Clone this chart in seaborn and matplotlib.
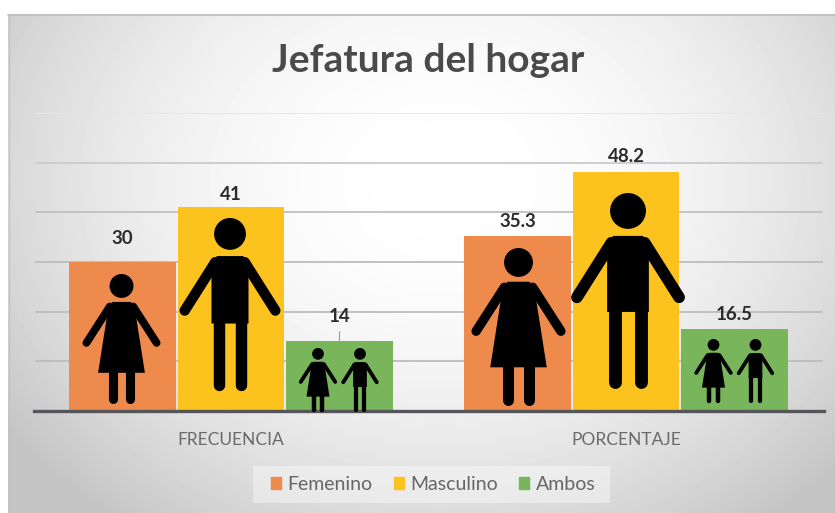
import numpy as np
import pandas as pd
import matplotlib
matplotlib.use("Agg")
import matplotlib.pyplot as plt
from matplotlib.patches import Circle, Polygon, Rectangle
import seaborn as sns

categories = ["FRECUENCIA", "PORCENTAJE"]
femenino = [30, 35.3]
masculino = [41, 48.2]
ambos = [14, 16.5]
value_labels = [["30", "35.3"], ["41", "48.2"], ["14", "16.5"]]
series_names = ["Femenino", "Masculino", "Ambos"]
colors = ["#EE8A4C", "#FCC21E", "#79B55A"]
title = "Jefatura del hogar"
y_ticks = [0, 10, 20, 30, 40, 50, 60]

W, H = 835, 513
sns.set_theme(style="white")
plt.rcParams["font.family"] = ["Lato", "DejaVu Sans"]

rows = []
for name, vals in zip(series_names, [femenino, masculino, ambos]):
    for c, v in zip(categories, vals):
        rows.append({"cat": c, "serie": name, "valor": v})
df = pd.DataFrame(rows)

fig = plt.figure(figsize=(W / 100, H / 100), dpi=100, facecolor="white")

# Panel background (radial grey gradient)
bg = fig.add_axes([0, 0, 1, 1], zorder=0)
bg.axis("off")
yy, xx = np.mgrid[14:H, 8:W]
r = np.sqrt(((xx - 440) / 520.0) ** 2 + ((yy - 180) / 420.0) ** 2)
g = np.clip(1.0 - 0.22 * r ** 2, 0.77, 1.0)
bg.imshow(g, extent=(8, W, H, 14), cmap="gray", vmin=0, vmax=1, aspect="auto", zorder=0)
bg.set_xlim(0, W); bg.set_ylim(H, 0)
bg.plot([8, W], [14.5, 14.5], color="#bdbdbd", lw=1.2, zorder=1)
bg.plot([8.5, 8.5], [14, H], color="#c4c4c4", lw=1, zorder=1)
bg.add_patch(Rectangle((253, 466), 357, 37, facecolor="white", alpha=0.38, lw=0, zorder=2))

# Plot area
x0, x1, ytop, ybase = 33.5, 823.5, 113.0, 411.0
ax = fig.add_axes([x0 / W, 1 - ybase / H, (x1 - x0) / W, (ybase - ytop) / H], zorder=1)
ax.patch.set_alpha(0)
sns.barplot(data=df, x="cat", y="valor", hue="serie", palette=colors, hue_order=series_names,
            order=categories, width=0.824, gap=0.02, saturation=1, linewidth=0, ax=ax, zorder=3)
ax.set_ylim(0, 60)
ax.set_xlabel(""); ax.set_ylabel("")
ax.set_yticks(y_ticks)
ax.tick_params(axis="y", left=False, labelleft=False)
ax.tick_params(axis="x", bottom=False, labelsize=12.5, labelcolor="#6a6a6a", pad=9)
for s in ["top", "left", "right"]:
    ax.spines[s].set_visible(False)
ax.spines["bottom"].set_color("#55565a")
ax.spines["bottom"].set_linewidth(2.4)
ax.spines["bottom"].set_zorder(5)
grid_cols = {10: "#bcbcbc", 20: "#bcbcbc", 30: "#bcbcbc", 40: "#c0c0c0", 50: "#cbcbcb", 60: "#e6e6e6"}
for v, col in grid_cols.items():
    ax.axhline(v, xmin=0.003, xmax=0.998, color=col, lw=1.3, zorder=1)

# Data labels
label_offsets = [[23, 14], [13, 15], [25, 15]]
for cont, labs, offs in zip(ax.containers, value_labels, label_offsets):
    for bar, lab, off in zip(cont, labs, offs):
        ax.annotate(lab, (bar.get_x() + bar.get_width() / 2, bar.get_height()),
                    xytext=(0, off * 0.72), textcoords="offset points",
                    ha="center", va="center", fontsize=13.5, fontweight="bold", color="#2b2b2b", zorder=6)
# first row offsets are per-series: [category 1, category 2]

# Small leader line above the 14 bar
b14 = ax.containers[2][0]
ax.annotate("", (b14.get_x() + b14.get_width() / 2, b14.get_height()),
            xytext=(0, 7), textcoords="offset points",
            arrowprops=dict(arrowstyle="-", color="#a0a0a0", lw=0.9, shrinkA=0, shrinkB=0))

# Legend
handles = [Rectangle((0, 0), 1, 1, color=c) for c in colors]
ax.legend(handles, series_names, ncol=3, loc="center",
          bbox_to_anchor=((433 - x0) / (x1 - x0), (ybase - 484.5) / (ybase - ytop)),
          frameon=False, fontsize=14, labelcolor="#666666",
          handlelength=0.52, handleheight=0.52, handletextpad=0.32,
          columnspacing=1.1, borderpad=0, borderaxespad=0)

# Title
fig.text(428 / W, 1 - 61 / H, title, ha="center", va="center", fontsize=28,
         fontweight="bold", color="#4a4a4a")

# Pictograms
pic = fig.add_axes([0, 0, 1, 1], zorder=3)
pic.set_xlim(0, W); pic.set_ylim(H, 0); pic.axis("off"); pic.patch.set_alpha(0)

def stroke(x, y, width_px, cap="round"):
    pic.plot(x, y, color="black", lw=width_px * 0.72, solid_capstyle=cap)

def man(cx, top, h):
    pic.add_patch(Circle((cx, top + .092 * h), .092 * h, color="black", lw=0))
    pic.add_patch(Polygon([(cx - .107 * h, top + .25 * h), (cx - .075 * h, top + .22 * h),
                           (cx + .075 * h, top + .22 * h), (cx + .107 * h, top + .25 * h),
                           (cx + .107 * h, top + .61 * h), (cx - .107 * h, top + .61 * h)],
                          closed=True, color="black", lw=0))
    for s in (-1, 1):
        stroke([cx + s * .066 * h] * 2, [top + .55 * h, top + .968 * h], .066 * h)
        stroke([cx + s * .085 * h, cx + s * .262 * h], [top + .255 * h, top + .535 * h], .06 * h)

def woman(cx, top, h):
    pic.add_patch(Circle((cx, top + .092 * h), .092 * h, color="black", lw=0))
    pic.add_patch(Polygon([(cx - .07 * h, top + .215 * h), (cx + .07 * h, top + .215 * h),
                           (cx + .10 * h, top + .25 * h), (cx + .18 * h, top + .76 * h),
                           (cx - .18 * h, top + .76 * h), (cx - .10 * h, top + .25 * h)],
                          closed=True, color="black", lw=0))
    for s in (-1, 1):
        stroke([cx + s * .065 * h] * 2, [top + .72 * h, top + .965 * h], .07 * h)
        stroke([cx + s * .09 * h, cx + s * .27 * h], [top + .25 * h, top + .53 * h], .06 * h)

def px_x(bar):
    return ax.transData.transform((bar.get_x() + bar.get_width() / 2, 0))[0]

c_f, c_m, c_a = ax.containers
woman(px_x(c_f[0]) - 1, 274, 130)
man(px_x(c_m[0]) - 1, 218, 173)
woman(px_x(c_a[0]) - 21.5, 348, 64)
man(px_x(c_a[0]) + 20.5, 348, 64)
woman(px_x(c_f[1]) + 1, 248, 157)
man(px_x(c_m[1]) + 2, 193, 195)
woman(px_x(c_a[1]) - 21, 339, 64)
man(px_x(c_a[1]) + 21, 339, 64)

fig.savefig("out.png", dpi=100, facecolor="white")
